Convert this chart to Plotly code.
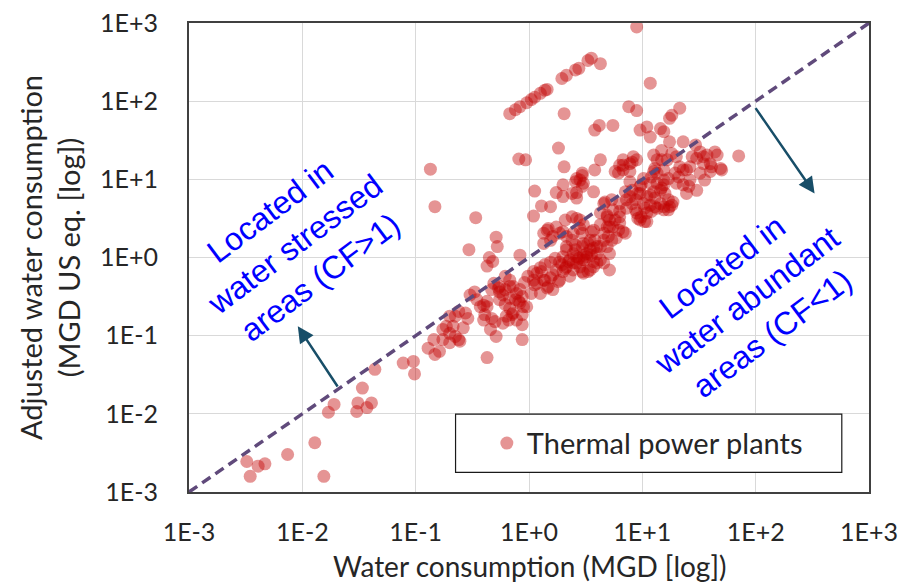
import plotly.graph_objects as go

# ---- data (log10 of values) ----
band_x = [-0.17,-0.12,-0.08,-0.02,0.02,0.05,0.10,0.14,0.16,0.29,0.33,0.41,0.44,0.52,0.55,0.63,0.95,1.07]
band_y = [1.84,1.89,1.93,1.98,2.02,2.05,2.10,2.14,2.15,2.29,2.33,2.40,2.42,2.52,2.55,2.48,2.95,2.23]

upper_x = [0.31,0.88,0.95,1.33,1.26,1.24,0.62,0.58,0.74,0.98,1.04,1.07,1.16,1.19,0.26,-0.09,-0.03,-0.87,0.31,1.24,1.36,1.47,1.44,1.30,1.26,1.85,1.10,1.17,1.13,1.08,1.19,0.92,0.89,0.83,0.76,0.63,0.58,0.47]
upper_y = [1.84,1.93,1.88,1.91,1.82,1.78,1.69,1.63,1.69,1.63,1.67,1.54,1.65,1.61,1.40,1.26,1.25,1.13,1.16,1.48,1.48,1.44,1.29,1.29,1.33,1.30,1.31,1.25,1.08,1.03,1.12,1.29,1.20,1.18,1.10,1.25,1.12,1.08]

right_x = [1.54,1.57,1.64,1.61,1.70,1.54,1.51,1.55,1.33,1.39,1.29,1.30,1.36,1.42,1.48,1.41,1.39,1.19,1.20,1.23,1.16,1.24,1.11,1.04,1.01,0.94,1.69,1.60,1.66,1.51,1.36,1.42,1.48,1.60,1.32,1.23,1.19,1.13,1.16,1.10,1.27,1.19,1.26,1.19,1.23,1.07,1.13,1.17,1.13,1.22,1.11,1.10,1.07,1.17]
right_y = [1.29,1.31,1.35,1.16,1.12,1.20,1.08,0.99,1.16,1.12,1.08,0.95,0.93,0.99,0.86,0.91,0.82,0.93,0.82,0.74,0.69,0.65,0.65,0.78,0.69,0.74,1.14,1.20,1.31,1.35,1.12,1.16,1.27,1.10,1.03,1.01,0.99,0.95,0.86,0.84,0.71,0.65,0.67,0.61,0.61,0.67,0.63,1.37,1.25,1.25,1.14,1.10,0.95,0.89]

mid_x = [0.57,0.67,0.73,0.80,0.85,0.89,0.99,0.98,1.07,1.11,0.48,0.86,0.91,0.98,1.01,1.02,1.04,1.08,0.99,1.04,0.96,0.94,0.91,0.89,0.96,0.86,0.80,0.83,0.89,0.79,0.80,0.91,0.95,0.83,0.47,0.45,0.74,0.69,0.73,0.66,0.69,0.63,0.66,0.63,0.69,0.76,0.80,0.71,0.79,0.85,0.77,0.95,0.98,1.02,0.70,0.83,0.80,0.74,0.71,0.57,0.66,0.69]
mid_y = [0.84,0.71,0.74,0.69,0.84,0.97,0.93,0.82,0.80,0.76,0.95,0.74,0.86,0.91,1.01,0.63,0.57,0.59,0.52,0.46,0.50,0.61,0.69,0.78,0.82,0.63,0.59,1.12,1.10,1.08,1.18,1.22,1.25,1.25,0.91,0.99,0.61,0.39,0.22,0.22,0.54,0.42,0.69,0.57,0.52,0.48,0.52,0.39,0.35,0.31,0.25,0.57,0.48,0.46,0.27,0.33,0.44,0.39,0.48,0.35,0.31,0.14]

lowmid_x = [0.05,0.11,0.19,-0.83,-0.47,0.04,0.30,0.24,0.30,0.42,0.42,0.41,0.47,0.42,0.38,0.32,0.38,0.45,0.16,0.24,0.21,0.13,0.39,0.47,0.48,0.54,0.57,0.63,0.51,0.33,0.39,0.13,0.17,0.30,0.33,0.38,0.45,0.55,0.58,0.52,0.47,0.41,0.33,0.30,0.35,0.42,0.48,0.54,0.60,0.42,0.48,0.41,0.47,0.27,0.19,0.60,0.51,0.63,0.57,0.52,0.47,0.36,0.39,0.45,0.48,0.42,0.49,0.60,0.66,0.71,0.71,0.55,0.54,0.57,0.44]
lowmid_y = [0.85,0.66,0.65,0.65,0.51,0.53,0.93,0.83,0.78,0.83,0.76,0.97,1.05,1.01,0.82,0.48,0.52,0.48,0.35,0.39,0.27,0.18,0.31,0.31,0.18,0.22,0.12,0.14,0.05,0.14,0.05,0.31,0.37,0.33,0.27,0.22,0.37,0.33,0.22,0.18,0.14,0.10,0.10,0.01,-0.05,-0.07,0.03,0.10,0.14,0.50,0.42,0.16,-0.03,0.31,0.22,0.05,0.01,-0.03,-0.12,-0.18,-0.18,-0.03,-0.16,-0.12,-0.20,0.01,-0.03,-0.07,-0.07,-0.16,0.05,0.03,-0.16,-0.05,-0.01]

core_x = [-0.29,-0.28,-0.08,-0.53,-0.35,-0.32,-0.37,-0.21,-0.17,-0.01,0.04,0.07,0.11,0.14,0.17,0.10,0.02,0.21,0.24,0.30,0.33,0.36,0.29,0.39,0.04,0.16,0.13,0.07,0.21,0.19,0.27,0.32,0.14,0.19,0.23,0.10,0.27,0.05,-0.04,0.26,-0.31,-0.26,-0.17,-0.14,-0.21,-0.27,-0.11,-0.08,-0.23,-0.26]
core_y = [0.26,0.14,0.03,0.10,0.00,-0.05,-0.11,-0.24,-0.29,-0.24,-0.29,-0.20,-0.18,-0.29,-0.37,-0.46,-0.46,-0.41,-0.16,-0.18,-0.12,-0.24,-0.09,-0.07,-0.18,-0.39,-0.29,-0.33,-0.22,-0.26,-0.29,-0.14,-0.09,-0.06,-0.01,-0.13,-0.06,-0.35,-0.32,-0.31,-0.33,-0.37,-0.37,-0.37,-0.41,-0.39,-0.46,-0.41,-0.48,-0.54]

lowband_x = [-0.52,-0.48,-0.40,-0.37,-0.33,-0.26,-0.40,-0.30,-0.33,-0.20,-0.14,-0.17,-0.06,-0.06,-0.37,-0.56,-0.54,-0.58,-0.62,-0.73,-0.70,-0.76,-0.84,-0.89,-0.83,-0.79,-0.46,-0.43,-0.37,-0.62,-0.65,-0.67,-0.76,-0.65,-0.61,-0.70,-0.39,-0.15,-0.18,-0.06,-0.05,-0.09,-0.08,-0.02,-0.11,-0.23,-0.34,-0.29,-0.70,-0.21,-0.17,-0.06,-0.12]
lowband_y = [-0.48,-0.44,-0.61,-0.63,-0.41,-0.44,-0.80,-0.82,-0.78,-0.75,-0.71,-0.65,-0.86,-1.05,-1.28,-0.71,-0.78,-0.90,-1.05,-0.88,-0.97,-1.05,-1.05,-1.16,-1.24,-1.20,-0.54,-0.63,-0.56,-0.69,-0.75,-0.88,-0.92,-1.01,-1.07,-1.09,-0.73,-0.73,-0.80,-0.73,-0.63,-0.56,-0.58,-0.63,-0.80,-0.84,-0.92,-1.01,-0.75,-0.60,-0.52,-0.50,-0.54]

tail_x = [-1.11,-1.02,-1.01,-1.36,-1.47,-1.51,-1.43,-1.39,-1.52,-1.72,-1.77,-1.89,-2.13,-2.49,-2.39,-2.33,-2.46,-1.81]
tail_y = [-1.35,-1.33,-1.49,-1.43,-1.67,-1.86,-1.92,-1.86,-1.97,-1.88,-1.98,-2.37,-2.52,-2.61,-2.67,-2.64,-2.80,-2.80]

tick_vals = [1e-3, 1e-2, 1e-1, 1e0, 1e1, 1e2, 1e3]
tick_text = ["1E-3", "1E-2", "1E-1", "1E+0", "1E+1", "1E+2", "1E+3"]

all_x = band_x + upper_x + right_x + mid_x + lowmid_x + core_x + lowband_x + tail_x
all_y = band_y + upper_y + right_y + mid_y + lowmid_y + core_y + lowband_y + tail_y
water = [10 ** v for v in all_x]
adjusted = [10 ** v for v in all_y]

TXT = "#262626"
FONT = "Lato"

fig = go.Figure()
fig.add_trace(go.Scatter(
    x=water, y=adjusted, mode="markers", name="Thermal power plants",
    marker=dict(size=13, color="rgba(192,0,0,0.42)", line=dict(width=0)),
))
fig.add_trace(go.Scatter(
    x=[1e-3, 1e3], y=[1e-3, 1e3], mode="lines", showlegend=False,
    line=dict(color="#604A7B", width=3.5, dash="10px,6px"), hoverinfo="skip",
))

axis_common = dict(
    type="log", range=[-3, 3], tickvals=tick_vals, ticktext=tick_text,
    showgrid=True, gridcolor="#D9D9D9", gridwidth=1.3,
    showline=True, linecolor="#404040", linewidth=2, mirror=True,
    ticks="outside", tickcolor="rgba(0,0,0,0)", automargin=False,
    ticklabeloverflow="allow",
    tickfont=dict(family=FONT, size=25, color=TXT),
)
fig.update_xaxes(**axis_common, ticklen=17)
fig.update_yaxes(**axis_common, ticklen=24)

annotations = [
    dict(text="Water consumption (MGD [log])", xref="paper", yref="paper",
         x=0.5, y=-0.157, xanchor="center", yanchor="middle", showarrow=False,
         font=dict(family=FONT, size=28, color=TXT)),
    dict(text="Adjusted water consumption<br>(MGD US eq. [log])", xref="paper", yref="paper",
         x=-0.205, y=0.5, xanchor="center", yanchor="middle", showarrow=False, textangle=-90,
         font=dict(family=FONT, size=29, color=TXT)),
    dict(text="Located in<br>water stressed<br>areas (CF>1)", xref="x", yref="y",
         x=-2.07, y=0.17, showarrow=False, textangle=-37,
         font=dict(family="Arial, Liberation Sans", size=32, color="#0000FF")),
    dict(text="Located in<br>water abundant<br>areas (CF<1)", xref="x", yref="y",
         x=1.92, y=-0.55, showarrow=False, textangle=-37,
         font=dict(family="Arial, Liberation Sans", size=32, color="#0000FF")),
    dict(text="", xref="x", yref="y", axref="x", ayref="y",
         x=2.52, y=0.82, ax=1.99, ay=1.93, showarrow=True,
         arrowhead=2, arrowsize=1.3, arrowwidth=2.5, arrowcolor="#184E68"),
    dict(text="", xref="x", yref="y", axref="x", ayref="y",
         x=-2.04, y=-0.88, ax=-1.68, ay=-1.67, showarrow=True,
         arrowhead=2, arrowsize=1.3, arrowwidth=2.5, arrowcolor="#184E68"),
]

fig.update_layout(
    width=903, height=585,
    margin=dict(l=189, r=34, t=23, b=93),
    plot_bgcolor="white", paper_bgcolor="white",
    annotations=annotations,
    shapes=[dict(type="rect", xref="paper", yref="paper", x0=0.392, x1=0.960, y0=0.042, y1=0.166,
                 line=dict(color="#1a1a1a", width=1.2), fillcolor="white", layer="above")],
    showlegend=True,
    legend=dict(x=0.438, y=0.104, xanchor="left", yanchor="middle",
                bgcolor="rgba(0,0,0,0)", borderwidth=0,
                font=dict(family=FONT, size=29, color=TXT)),
)

fig.write_html("out.html", config={"displayModeBar": False},
               post_script="document.body.style.margin='0';document.body.style.overflow='hidden';")
